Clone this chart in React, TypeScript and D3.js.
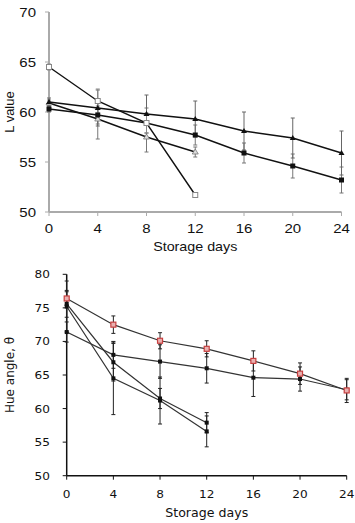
import React from "react";
import * as d3 from "d3";

const days = [0, 4, 8, 12, 16, 20, 24];
const topYTicks = [50, 55, 60, 65, 70];
const botYTicks = [50, 55, 60, 65, 70, 75, 80];

// Top chart: L value
const lA = [64.5, 61.1, 58.9, 51.7];
const lAErr = [0.3, 1.2, 1.0, 0.2];
const lB = [61.0, 60.4, 59.8, 59.3, 58.1, 57.4, 55.9];
const lBErr = [0.4, 1.8, 1.9, 1.8, 1.9, 2.0, 2.2];
const lC = [60.3, 59.7, 58.9, 57.7, 55.9, 54.6, 53.2];
const lCErr = [0.3, 0.9, 1.5, 1.0, 1.0, 1.2, 1.3];
const lD = [60.9, 59.3, 57.5, 56.0];
const lDErr = [0.3, 2.0, 1.5, 0.5];

// Bottom chart: Hue angle
const hRed = [76.4, 72.5, 70.1, 68.9, 67.1, 65.2, 62.7];
const hRedErr = [1.0, 1.3, 1.2, 1.2, 1.5, 1.6, 1.8];
const h2 = [71.4, 68.0, 67.0, 66.0, 64.6, 64.4, 62.8];
const h2Err = [1.5, 2.0, 2.5, 2.2, 2.8, 1.8, 1.5];
const h3 = [75.6, 66.9, 61.5, 57.9];
const h3Err = [2.0, 2.8, 1.5, 1.5];
const h4 = [75.2, 64.5, 61.2, 56.6];
const h4Err = [3.8, 5.4, 3.5, 2.3];

type Series = {
  vals: number[];
  err: number[];
  marker: "openSq" | "tri" | "sq" | "openTri" | "redSq" | "dot";
  line: string;
  lw: number;
  errColor: string;
};

function Marker({ x, y, kind }: { x: number; y: number; kind: Series["marker"] }) {
  if (kind === "openSq")
    return <rect x={x - 2.5} y={y - 2.5} width={5} height={5} fill="#fff" stroke="#888" strokeWidth={1} />;
  if (kind === "sq") return <rect x={x - 2.5} y={y - 2.5} width={5} height={5} fill="#111" />;
  if (kind === "redSq")
    return <rect x={x - 2.5} y={y - 2.5} width={5} height={5} fill="#e8b0b0" stroke="#c84040" strokeWidth={1.2} />;
  if (kind === "tri")
    return <path d={`M${x},${y - 3}L${x + 3},${y + 2}L${x - 3},${y + 2}Z`} fill="#111" />;
  if (kind === "openTri")
    return <path d={`M${x},${y - 3}L${x + 3},${y + 2}L${x - 3},${y + 2}Z`} fill="#ddd" stroke="#777" strokeWidth={0.8} />;
  return <rect x={x - 2} y={y - 2} width={4} height={4} fill="#111" />;
}

function Chart({
  series,
  x0,
  x1,
  y0,
  y1,
  yDomain,
  yTicks,
  axisColor,
  axisW,
  font,
  tickSize,
  tickSx,
  titleSize,
  titleSx,
  yLabel,
  yLabelX,
  yLabelSize,
  xLabelY,
  tickLabelY,
  yTickLabelX,
}: any) {
  const x = d3.scaleLinear().domain([0, 24]).range([x0, x1]);
  const y = d3.scaleLinear().domain(yDomain).range([y1, y0]);
  const line = d3
    .line<[number, number]>()
    .x((d) => x(d[0]))
    .y((d) => y(d[1]));
  return (
    <g fontFamily={font}>
      {/* axes */}
      <line x1={x0} x2={x0} y1={y(yDomain[1])} y2={y(yDomain[0])} stroke={axisColor} strokeWidth={axisW} />
      <line x1={x0} x2={x1} y1={y(yDomain[0])} y2={y(yDomain[0])} stroke={axisColor} strokeWidth={axisW} />
      {yTicks.map((t: number) => (
        <g key={"y" + t}>
          <line x1={x0 - 4} x2={x0} y1={y(t)} y2={y(t)} stroke={axisColor} strokeWidth={1} />
          <text
            transform={`translate(${yTickLabelX},${y(t) + tickSize * 0.36}) scale(${tickSx},1)`}
            textAnchor="end"
            fontSize={tickSize}
            fill="#111"
          >
            {t}
          </text>
        </g>
      ))}
      {days.map((d) => (
        <g key={"x" + d}>
          <line x1={x(d)} x2={x(d)} y1={y(yDomain[0])} y2={y(yDomain[0]) + 4} stroke={axisColor} strokeWidth={1} />
          <text
            transform={`translate(${x(d)},${tickLabelY}) scale(${tickSx},1)`}
            textAnchor="middle"
            fontSize={tickSize}
            fill="#111"
          >
            {d}
          </text>
        </g>
      ))}
      <text
        transform={`translate(${(x0 + x1) / 2},${xLabelY}) scale(${titleSx},1)`}
        textAnchor="middle"
        fontSize={titleSize}
        fill="#111"
      >
        Storage days
      </text>
      <text
        transform={`translate(${yLabelX},${(y0 + y1) / 2}) rotate(-90)`}
        textAnchor="middle"
        fontSize={yLabelSize}
        fill="#111"
      >
        {yLabel}
      </text>
      {/* error bars */}
      {series.map((s: Series, si: number) =>
        s.vals.map((v, i) => {
          const cx = x(days[i]);
          const top = y(v + s.err[i]);
          const bot = y(v - s.err[i]);
          return (
            <g key={`e${si}-${i}`} stroke={s.errColor} strokeWidth={1}>
              <line x1={cx} x2={cx} y1={top} y2={bot} />
              <line x1={cx - 2} x2={cx + 2} y1={top} y2={top} />
              <line x1={cx - 2} x2={cx + 2} y1={bot} y2={bot} />
            </g>
          );
        })
      )}
      {/* lines */}
      {series.map((s: Series, si: number) => (
        <path
          key={"l" + si}
          d={line(s.vals.map((v, i) => [days[i], v] as [number, number])) || ""}
          fill="none"
          stroke={s.line}
          strokeWidth={s.lw}
        />
      ))}
      {/* markers */}
      {series.map((s: Series, si: number) =>
        s.vals.map((v, i) => <Marker key={`m${si}-${i}`} x={x(days[i])} y={y(v)} kind={s.marker} />)
      )}
    </g>
  );
}

export default function App() {
  const topSeries: Series[] = [
    { vals: lD, err: lDErr, marker: "openTri", line: "#111", lw: 1.4, errColor: "#777" },
    { vals: lC, err: lCErr, marker: "sq", line: "#111", lw: 1.4, errColor: "#777" },
    { vals: lB, err: lBErr, marker: "tri", line: "#111", lw: 1.4, errColor: "#666" },
    { vals: lA, err: lAErr, marker: "openSq", line: "#111", lw: 1.4, errColor: "#888" },
  ];
  const botSeries: Series[] = [
    { vals: h4, err: h4Err, marker: "dot", line: "#333", lw: 1.2, errColor: "#222" },
    { vals: h3, err: h3Err, marker: "dot", line: "#333", lw: 1.2, errColor: "#222" },
    { vals: h2, err: h2Err, marker: "dot", line: "#333", lw: 1.2, errColor: "#222" },
    { vals: hRed, err: hRedErr, marker: "redSq", line: "#333", lw: 1.2, errColor: "#222" },
  ];
  return (
    <svg
      width={355}
      height={523}
      style={{ position: "absolute", left: 0, top: 0, background: "#fff" }}
    >
      <rect width={355} height={523} fill="#fff" />
      <Chart
        series={topSeries}
        x0={49}
        x1={341.5}
        y0={12}
        y1={212}
        yDomain={[50, 70]}
        yTicks={topYTicks}
        axisColor="#aaa"
        axisW={2}
        font="'Liberation Sans', Arial, sans-serif"
        tickSize={12.5}
        tickSx={1.2}
        titleSize={13}
        titleSx={1.1}
        yLabel="L value"
        yLabelX={14}
        yLabelSize={13}
        xLabelY={251}
        tickLabelY={233}
        yTickLabelX={36}
      />
      <Chart
        series={botSeries}
        x0={66.7}
        x1={346.7}
        y0={274.3}
        y1={475.7}
        yDomain={[50, 80]}
        yTicks={botYTicks}
        axisColor="#111"
        axisW={1.5}
        font="'DejaVu Sans', Verdana, sans-serif"
        tickSize={11}
        tickSx={1.1}
        titleSize={12}
        titleSx={1.05}
        yLabel="Hue angle, θ"
        yLabelX={14}
        yLabelSize={12}
        xLabelY={517}
        tickLabelY={498}
        yTickLabelX={50}
      />
    </svg>
  );
}
